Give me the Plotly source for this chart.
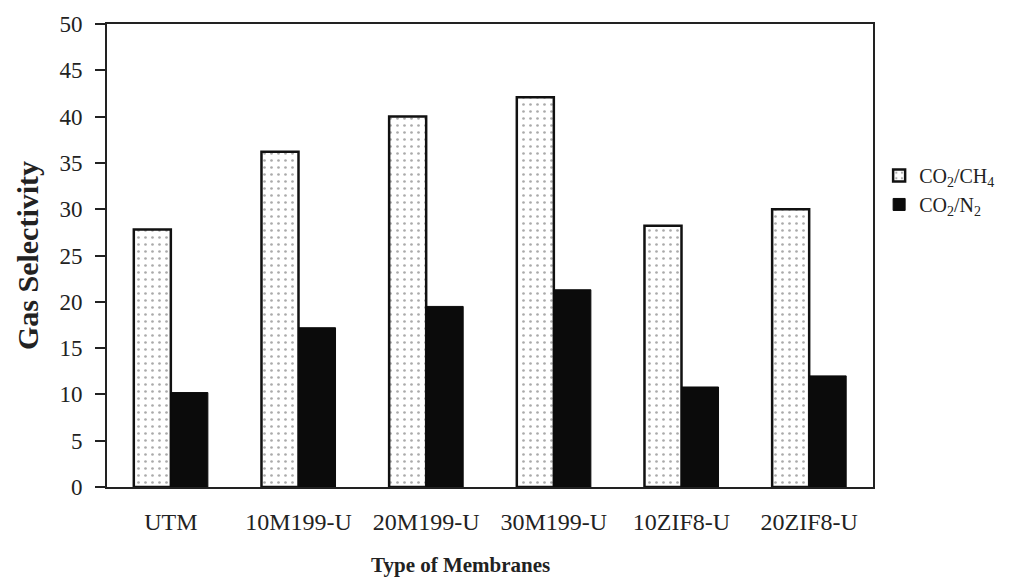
import plotly.graph_objects as go

categories = ["UTM", "10M199-U", "20M199-U", "30M199-U", "10ZIF8-U", "20ZIF8-U"]
co2_ch4 = [27.8, 36.2, 40.0, 42.1, 28.2, 30.0]
co2_n2 = [10.2, 17.2, 19.5, 21.3, 10.8, 12.0]
y_ticks = [0, 5, 10, 15, 20, 25, 30, 35, 40, 45, 50]

FONT = "Liberation Serif"

fig = go.Figure()
fig.add_trace(go.Bar(
    x=categories, y=co2_ch4, name="CO<sub>2</sub>/CH<sub>4</sub>",
    legendgroup="a",
    marker=dict(color="white", line=dict(color="#111", width=2.5),
                pattern=dict(shape=".", fgcolor="#555", bgcolor="white", size=7, solidity=0.12)),
))
fig.add_trace(go.Bar(
    x=categories, y=co2_n2, name="CO<sub>2</sub>/N<sub>2</sub>",
    legendgroup="b",
    marker=dict(color="#0b0b0b", line=dict(color="#0b0b0b", width=1)),
))

fig.update_layout(
    width=1021, height=585,
    margin=dict(l=107, r=148, t=24, b=98),
    paper_bgcolor="white", plot_bgcolor="white",
    barmode="group", bargap=0.42, bargroupgap=0,
    font=dict(family=FONT, color="#222", size=20),
    showlegend=True,
    legend=dict(x=1.008, y=0.715, xanchor="left", yanchor="top",
                font=dict(size=20, family=FONT, color="#222"),
                tracegroupgap=6, traceorder="normal",
                bgcolor="rgba(0,0,0,0)"),
    xaxis=dict(
        showline=True, linecolor="#222", linewidth=2, mirror=True,
        ticks="", ticklabelstandoff=12,
        tickfont=dict(size=24, family=FONT, color="#222"),
    ),
    yaxis=dict(
        range=[0, 50], tickvals=y_ticks,
        showline=True, linecolor="#222", linewidth=2, mirror=True,
        ticks="outside", ticklen=10, tickwidth=2, tickcolor="#222",
        ticklabelstandoff=8,
        showgrid=False, zeroline=False,
        tickfont=dict(size=23, family=FONT, color="#222"),
        title=dict(text="<b>Gas Selectivity</b>", font=dict(size=30, family=FONT, color="#222"), standoff=12),
    ),
    annotations=[dict(
        text="<b>Type of Membranes</b>", xref="paper", yref="paper",
        x=0.461, y=-0.168, xanchor="center", yanchor="middle", showarrow=False,
        font=dict(size=21, family=FONT, color="#222"),
    )],
)

fig.write_html("out.html")
